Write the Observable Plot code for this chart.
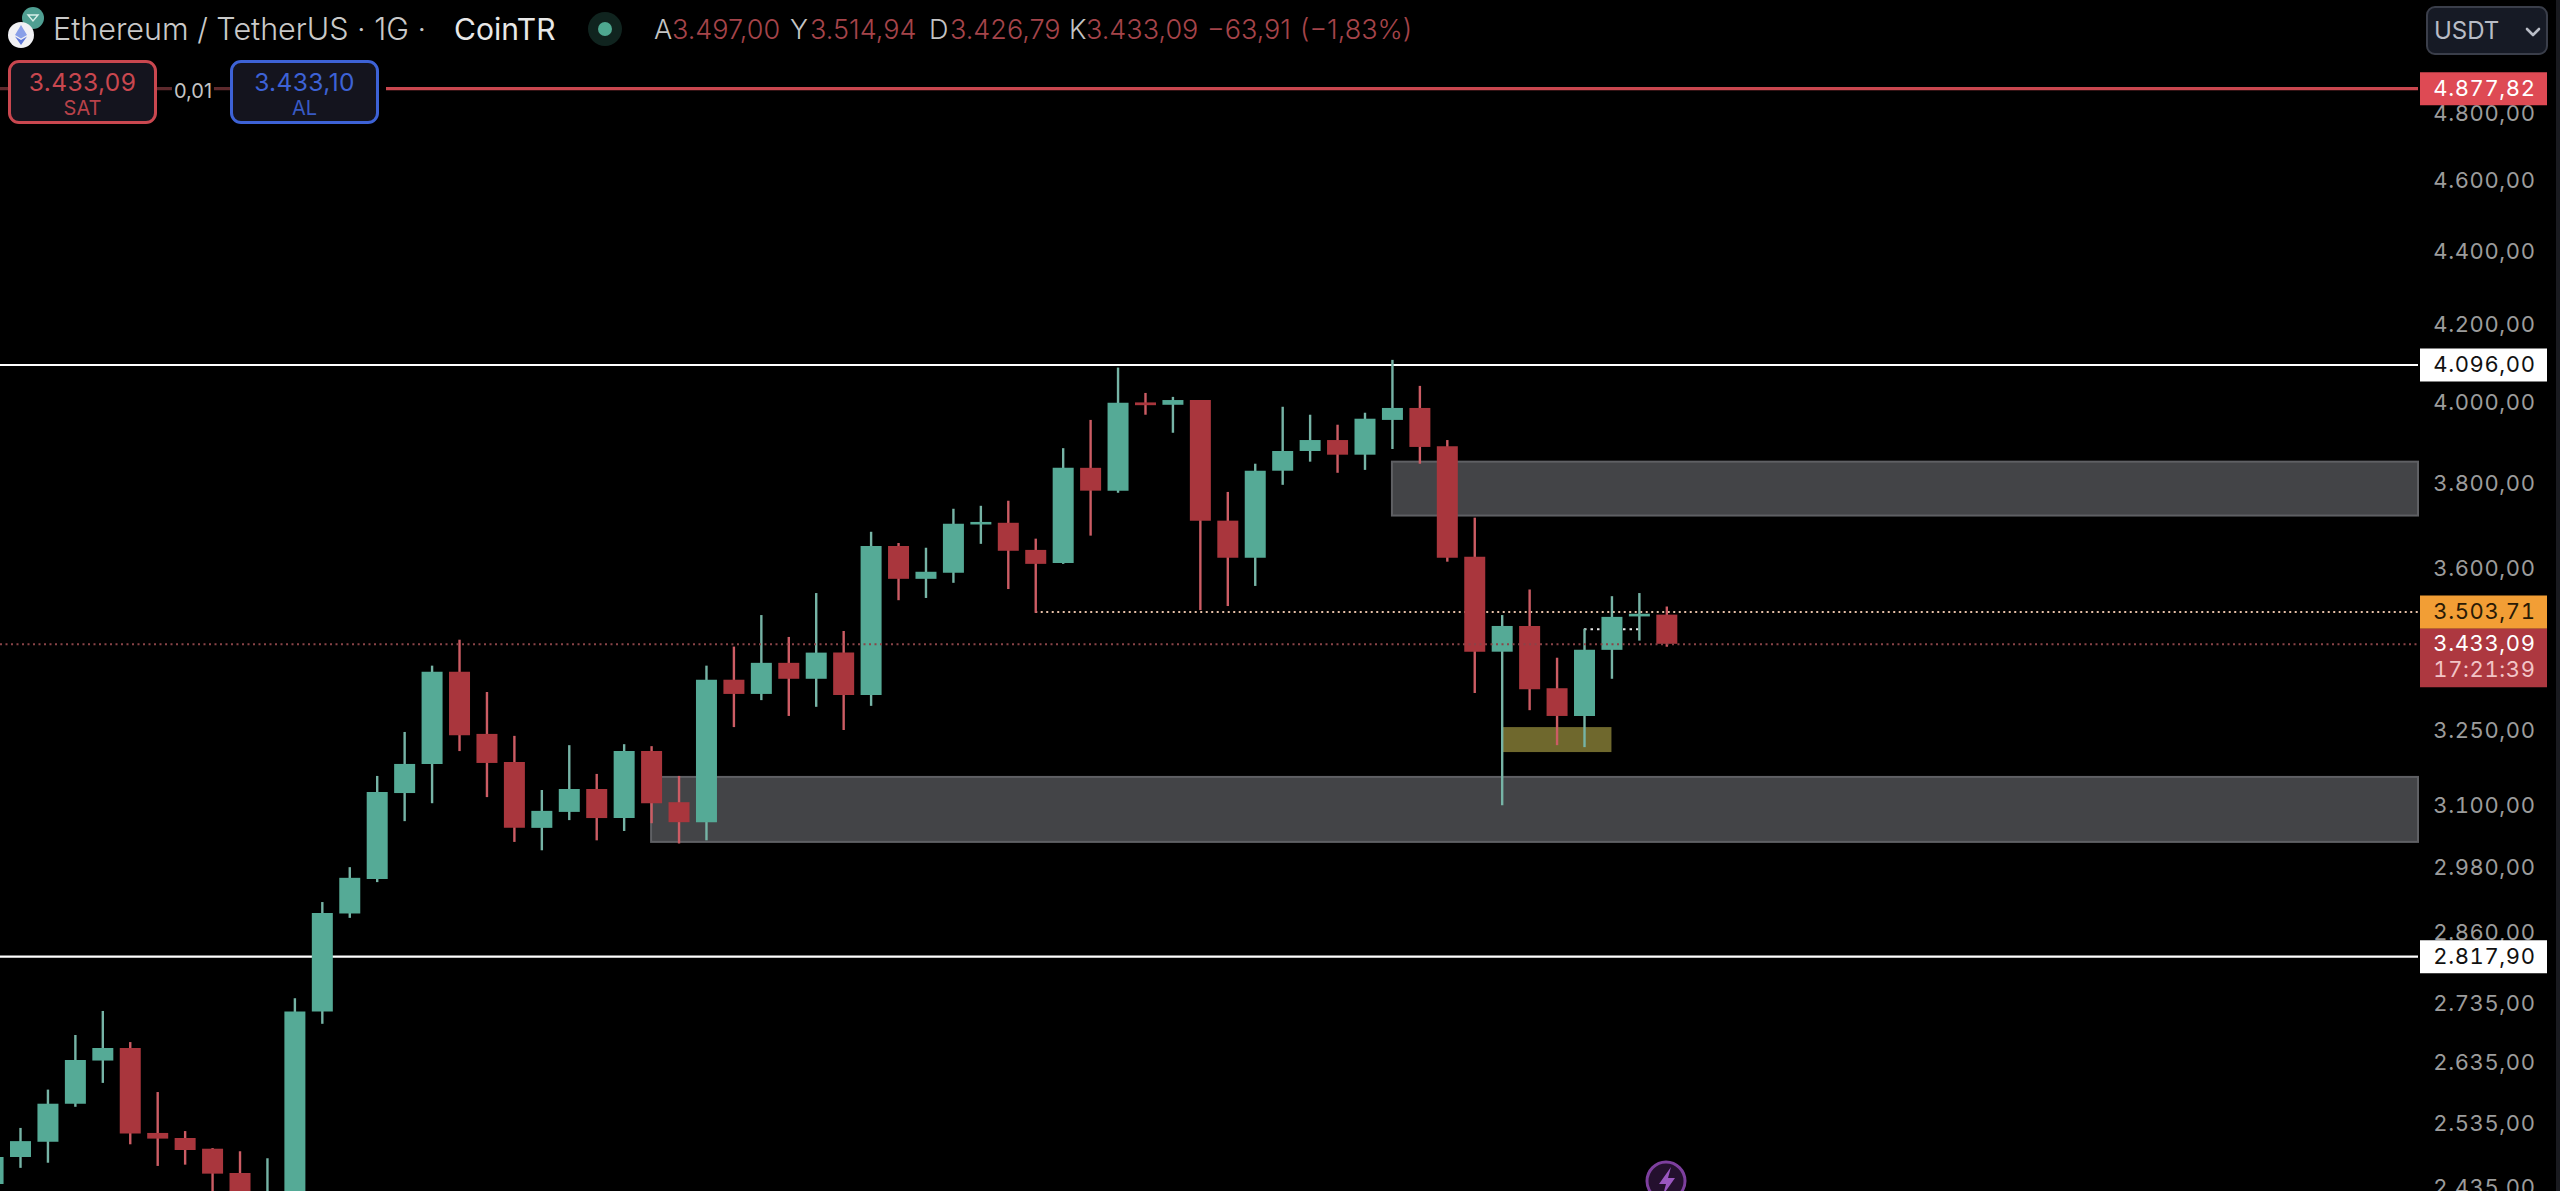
<!DOCTYPE html>
<html>
<head>
<meta charset="utf-8">
<script src="https://cdn.jsdelivr.net/npm/d3@7"></script>
<script src="https://cdn.jsdelivr.net/npm/@observablehq/plot@0.6"></script>
<style>
html,body{margin:0;padding:0;background:#000;overflow:hidden}
#wrap{position:relative;width:2560px;height:1191px;background:#000;overflow:hidden;font-family:Inter,sans-serif}
#wrap svg.plot{position:absolute;left:0;top:0}
.t{position:absolute;white-space:nowrap;line-height:1;transform:translateY(-50%)}
.btn{position:absolute;box-sizing:border-box;border-radius:11px;background:#14141e;border:3px solid;top:60px;height:64px;width:149px;text-align:center}
.btn div{position:absolute;left:0;right:0;line-height:1;transform:translateY(-50%)}
</style>
</head>
<body>
<div id="wrap"></div>
<script>
const opens  = [2440,2482,2506,2567,2638,2659,2520,2512,2495,2457,2370,2355,2721,2895,2959,3124,3182,3373,3243,3186,3056,3087,3132,3075,3208,3106,3067,3356,3326,3392,3358,3414,3324,3652,3577,3591,3702,3706,3643,3613,3837,3782,3999,3993,4005,3711,3625,3830,3878,3905,3869,3955,3985,3890,3627,3416,3472,3338,3280,3420,3493,3497];
const closes = [2482,2507,2567,2639,2659,2519,2511,2493,2456,2392,2407,2721,2896,2961,3126,3182,3373,3240,3184,3056,3089,3132,3075,3208,3104,3067,3356,3326,3392,3358,3414,3324,3652,3577,3593,3704,3708,3641,3611,3837,3782,3998,3992,4005,3711,3625,3830,3878,3905,3869,3958,3985,3888,3625,3416,3472,3336,3280,3420,3492,3499,3433.09];
const highs  = [2501,2528,2590,2681,2722,2669,2586,2523,2496,2491,2480,2744,2916,2981,3158,3247,3386,3442,3330,3239,3130,3220,3162,3222,3218,3158,3386,3427,3496,3448,3545,3461,3685,3659,3648,3739,3746,3758,3669,3885,3955,4088,4023,4013,4005,3779,3847,3988,3968,3943,3973,4108,4041,3905,3718,3496,3553,3403,3466,3538,3545,3514.94];
const lows   = [2423,2465,2473,2562,2601,2502,2468,2470,2415,2370,2355,2340,2700,2887,2953,3069,3104,3208,3116,3029,3013,3071,3032,3050,3065,3026,3032,3257,3313,3280,3299,3251,3301,3529,3534,3568,3657,3554,3501,3611,3676,3777,3968,3923,3507,3516,3561,3796,3852,3825,3832,3883,3847,3616,3328,3100,3292,3220,3216,3358,3440,3426.79];

const yTicks = [4800,4600,4400,4200,4000,3800,3600,3250,3100,2980,2860,2735,2635,2535,2435];
const zones = [
  {start:24, top:3156, bottom:3029, fill:"#434447", line:"#5f6064"},
  {start:51, top:3852, bottom:3723, fill:"#434447", line:"#5f6064"}
];
const olive = {start:55, end:59, top:3257, bottom:3206};
const resistance = 4877.82, high = 4096, low = 2817.90, lastPrice = 3433.09, pivot = 3503.71, minorLevel = 3466;

const W = 2560, H = 1191;
const xDom = [0.271, 93.57];
const xAt = px => xDom[0] + px / W * (xDom[1] - xDom[0]);
const edge = xAt(2418), boxL = xAt(2420), boxR = xAt(2547), labelX = xAt(2535);

const fmt = d3.formatLocale({decimal:",",thousands:".",grouping:[3],currency:["",""]}).format(",.2f");
const candles = opens.map((o,i)=>({i,o,c:closes[i],h:highs[i],l:lows[i]}));
const up = candles.filter(d=>d.c>=d.o), down = candles.filter(d=>d.c<d.o);
const GREEN="#55aa96", RED="#a9363d", GWICK="#76b4a6", RWICK="#cc5c64";
const FS = 22;

const box = (v,fill,sw=33,dy=0)=>Plot.ruleY([v],{x1:boxL,x2:boxR,stroke:fill,strokeWidth:sw,dy});
const boxText = (v,fill,dy=0,text=fmt(v))=>Plot.text([v],{x:labelX,y:d=>d,text:()=>text,fill,fontSize:FS,textAnchor:"end",dy,fontVariant:"tabular-nums"});
const zoneRect = z=>Plot.rect([z],{x1:d=>d.start,x2:edge,y1:d=>d.bottom,y2:d=>d.top,fill:d=>d.fill,stroke:d=>d.line,strokeWidth:2});

const chart = Plot.plot({
  width:W,height:H,marginTop:0,marginBottom:0,marginLeft:0,marginRight:25,
  style:{background:"#000",fontFamily:"Inter, sans-serif",letterSpacing:"0.6px"},
  x:{type:"linear",domain:xDom,range:[0,W],axis:null},
  y:{type:"log",domain:[2429.2,5157.3],range:[H,0]},
  color:{type:"identity"},
  marks:[
    Plot.axisY(yTicks,{anchor:"right",tickSize:0,tickPadding:0,textAnchor:"end",tickFormat:fmt,fill:"#9c9c9c",fontSize:FS,label:null}),
    Plot.ruleY([resistance],{x1:xDom[0],x2:xAt(230),stroke:"#5e2a2d",strokeWidth:3.4}),
    Plot.ruleY([resistance],{x1:xAt(386),x2:edge,stroke:"#c9474f",strokeWidth:3.4}),
    Plot.ruleY([high,low],{x1:xDom[0],x2:edge,stroke:"#fff",strokeWidth:2.2}),
    Plot.ruleY([pivot],{x1:38,x2:edge,stroke:"#e6bfa6",strokeWidth:2,strokeDasharray:"2,3.5"}),
    Plot.ruleY([minorLevel],{x1:58,x2:60,stroke:"#e8e8e8",strokeWidth:2,strokeDasharray:"2.5,4"}),
    ...zones.map(zoneRect),
    Plot.rect([olive],{x1:d=>d.start,x2:d=>d.end,y1:d=>d.bottom,y2:d=>d.top,fill:"#6f682d"}),
    Plot.ruleX(up,{x:"i",y1:"l",y2:"h",stroke:GWICK,strokeWidth:2.4}),
    Plot.ruleX(down,{x:"i",y1:"l",y2:"h",stroke:RWICK,strokeWidth:2.4}),
    Plot.ruleX(up,{x:"i",y1:"o",y2:"c",stroke:GREEN,strokeWidth:21}),
    Plot.ruleX(down,{x:"i",y1:"o",y2:"c",stroke:RED,strokeWidth:21}),
    Plot.ruleY([lastPrice],{x1:xDom[0],x2:edge,stroke:"#8a4448",strokeWidth:2,strokeDasharray:"2,3.5"}),
    box(lastPrice,"#ad3840",59,13.5),
    box(pivot,"#f29e35"),
    box(resistance,"#de4a54"),
    box(high,"#fff"),
    box(low,"#fff"),
    boxText(resistance,"#fff"),
    boxText(high,"#111"),
    boxText(low,"#111"),
    boxText(pivot,"#2a1a05"),
    boxText(lastPrice,"#fff"),
    boxText(lastPrice,"#f2c4c6",26,"17:21:39")
  ]
});
const wrap = document.getElementById("wrap");
wrap.appendChild(chart);

function t(text,left,top,size,color,extra=""){
  const d=document.createElement("div");d.className="t";d.textContent=text;
  d.style.cssText=`left:${left}px;top:${top}px;font-size:${size}px;color:${color};${extra}`;
  wrap.appendChild(d);return d;
}
t("Ethereum / TetherUS · 1G ·",53,29,30.5,"#c9c9c9","font-weight:300");
t("CoinTR",454,29,30,"#e8e8e8","font-weight:400");
const RT="#a5444a", LB="#c4c4c4", hs=27;
[["A",654,LB],["3.497,00",672,RT],["Y",790,LB],["3.514,94",810,RT],["D",929,LB],["3.426,79",950,RT],["K",1069,LB],["3.433,09",1086,RT],["−63,91",1207,RT],["(−1,83%)",1300,RT]]
  .forEach(([s,x,c])=>t(s,x,29,hs,c,"font-weight:300"));

function btn(left,color,price,label){
  const b=document.createElement("div");b.className="btn";
  b.style.left=left+"px";b.style.borderColor=color;
  b.innerHTML=`<div style="top:19px;font-size:24.5px;color:${color};letter-spacing:.4px">${price}</div><div style="top:45px;font-size:20px;color:${color};opacity:.9">${label}</div>`;
  wrap.appendChild(b);
}
btn(8,"#c9474f","3.433,09","SAT");
btn(230,"#3d62d6","3.433,10","AL");
t("0,01",193,91,20,"#c4c4c4","transform:translate(-50%,-50%);background:#000;padding:0 2px");

const usd=document.createElement("div");
usd.style.cssText="position:absolute;left:2426px;top:6px;width:122px;height:49px;box-sizing:border-box;border:2px solid #3a3e4a;border-radius:9px;background:#161a25";
wrap.appendChild(usd);
t("USDT",2434,31,24,"#b8bcc6");

const ov=document.createElementNS("http://www.w3.org/2000/svg","svg");
ov.setAttribute("width",W);ov.setAttribute("height",H);
ov.setAttribute("style","position:absolute;left:0;top:0;pointer-events:none");
ov.innerHTML=`
<circle cx="33" cy="18" r="11" fill="#4f9f92"/>
<path d="M28 15h10l-5 6z" fill="none" stroke="#d8efe9" stroke-width="1.4"/>
<circle cx="21" cy="35" r="13" fill="#f1f1f4"/>
<path d="M21 25l-6 10 6 3.5 6-3.5z" fill="#8aa0e8"/><path d="M21 40l-6-3.5 6 8.5 6-8.5z" fill="#5f78d8"/>
<circle cx="605" cy="29" r="17" fill="#10241f"/><circle cx="605" cy="29" r="7" fill="#4ea890"/>
<path d="M2527 29l6 6 6-6" fill="none" stroke="#b8bcc6" stroke-width="2.6" stroke-linecap="round" stroke-linejoin="round"/>
<rect x="2556" y="0" width="4" height="1191" fill="#1a1b20"/>
<circle cx="1666" cy="1181" r="19" fill="#24102e" stroke="#7d3f9e" stroke-width="3"/>
<path d="M1671 1167l-12 17h7l-3 11 12-17h-7z" fill="#9a57c0"/>`;
wrap.appendChild(ov);
</script>
</body>
</html>
